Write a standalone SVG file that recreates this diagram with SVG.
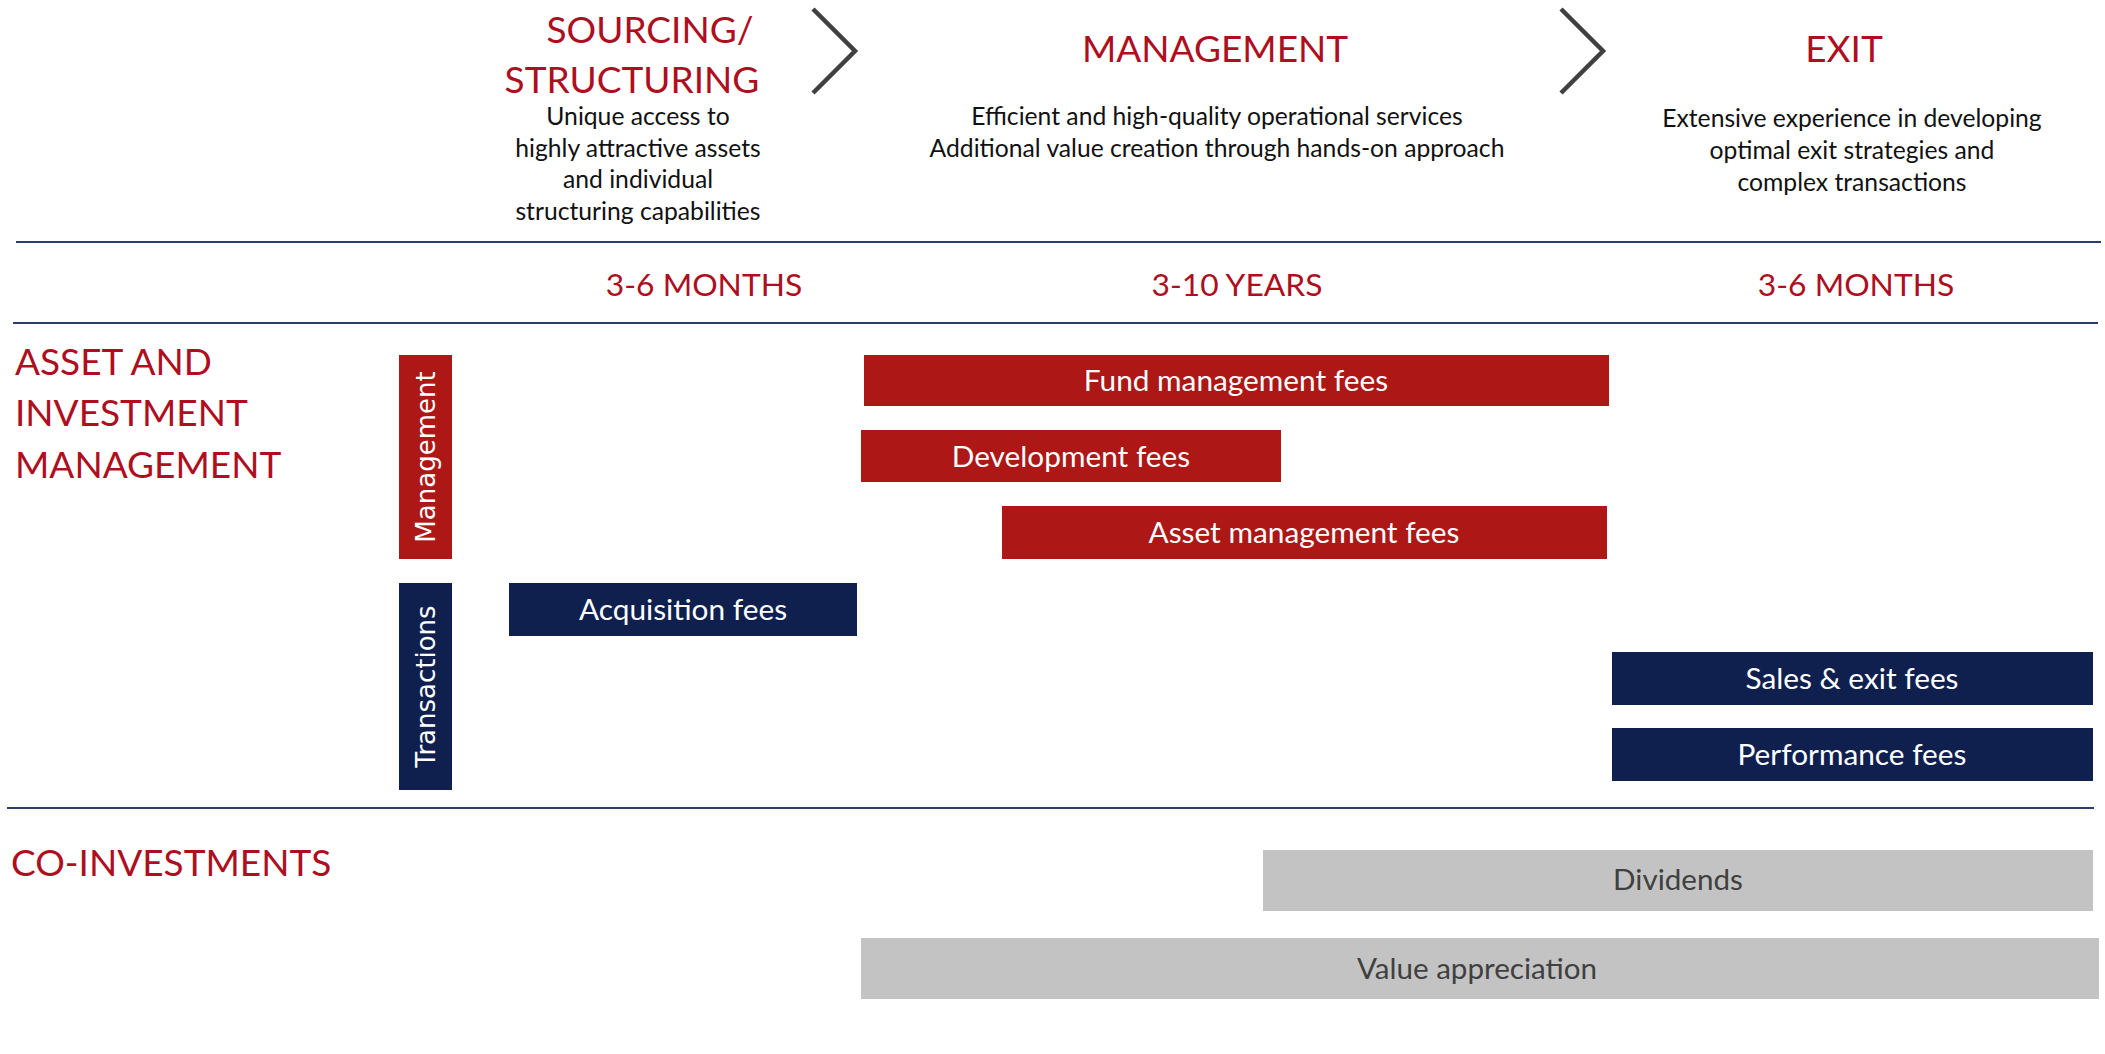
<svg xmlns="http://www.w3.org/2000/svg" width="2105" height="1054" viewBox="0 0 2105 1054">
  <style>
    text { font-family: Lato, "Open Sans", "Liberation Sans", sans-serif; }
    .title { fill: #AE0F1F; font-size: 37px; }
    .desc { fill: #111111; font-size: 24.7px; text-anchor: middle; }
    .dur { fill: #AE0F1F; font-size: 31.8px; text-anchor: middle; }
    .sect { fill: #AE0F1F; font-size: 37px; }
    .red { fill: #AD1716; }
    .navy { fill: #0F204F; }
    .gray { fill: #C3C3C3; }
    .bt { fill: #FFFFFF; font-size: 29.8px; text-anchor: middle; }
    .gt { fill: #404040; font-size: 29.6px; text-anchor: middle; }
    .vt { fill: #FFFFFF; font-family: "DejaVu Sans", Verdana, sans-serif; font-size: 26px; text-anchor: middle; dominant-baseline: central; }
    .sep { stroke: #2C3D6C; stroke-width: 2; }
    .chev { fill: none; stroke: #404040; stroke-width: 4.5; }
  </style>
  <rect width="2105" height="1054" fill="#FFFFFF"/>

  <g id="connectors">
    <polyline class="chev" points="813,9 855,51 813,93"/>
    <polyline class="chev" points="1561,9 1603,51 1561,93"/>
  </g>

  <g id="separators">
    <line class="sep" x1="16" y1="242" x2="2101" y2="242"/>
    <line class="sep" x1="13" y1="323" x2="2098" y2="323"/>
    <line class="sep" x1="7" y1="808" x2="2094" y2="808"/>
  </g>

  <g id="phase-sourcing">
    <text class="title" x="650" y="43" text-anchor="middle">SOURCING/</text>
    <text class="title" x="632" y="93" text-anchor="middle">STRUCTURING</text>
    <text class="desc" x="638" y="125">Unique access to</text>
    <text class="desc" x="638" y="157">highly attractive assets</text>
    <text class="desc" x="638" y="188">and individual</text>
    <text class="desc" x="638" y="220">structuring capabilities</text>
  </g>

  <g id="phase-management">
    <text class="title" x="1215" y="62" text-anchor="middle">MANAGEMENT</text>
    <text class="desc" x="1217" y="125">Efficient and high-quality operational services</text>
    <text class="desc" x="1217" y="157">Additional value creation through hands-on approach</text>
  </g>

  <g id="phase-exit">
    <text class="title" x="1844" y="62" text-anchor="middle">EXIT</text>
    <text class="desc" x="1852" y="127">Extensive experience in developing</text>
    <text class="desc" x="1852" y="159">optimal exit strategies and</text>
    <text class="desc" x="1852" y="191">complex transactions</text>
  </g>

  <g id="durations">
    <text class="dur" x="704" y="296">3-6 MONTHS</text>
    <text class="dur" x="1237" y="296">3-10 YEARS</text>
    <text class="dur" x="1856" y="296">3-6 MONTHS</text>
  </g>

  <g id="section-asset">
    <text class="sect" x="15" y="375">ASSET AND</text>
    <text class="sect" x="15" y="426">INVESTMENT</text>
    <text class="sect" x="15" y="478">MANAGEMENT</text>
  </g>

  <g id="section-co">
    <text class="sect" x="11" y="876">CO-INVESTMENTS</text>
  </g>

  <g id="cat-management">
    <rect class="red" x="399" y="355" width="53" height="204"/>
    <text class="vt" transform="translate(425.5,457) rotate(-90)">Management</text>
  </g>

  <g id="cat-transactions">
    <rect class="navy" x="399" y="583" width="53" height="207"/>
    <text class="vt" transform="translate(425.5,686.5) rotate(-90)">Transactions</text>
  </g>

  <g id="fund-management-fees">
    <rect class="red" x="864" y="355" width="745" height="51"/>
    <text class="bt" x="1236" y="391">Fund management fees</text>
  </g>

  <g id="development-fees">
    <rect class="red" x="861" y="430" width="420" height="52"/>
    <text class="bt" x="1071" y="467">Development fees</text>
  </g>

  <g id="asset-management-fees">
    <rect class="red" x="1002" y="506" width="605" height="53"/>
    <text class="bt" x="1304" y="543">Asset management fees</text>
  </g>

  <g id="acquisition-fees">
    <rect class="navy" x="509" y="583" width="348" height="53"/>
    <text class="bt" x="683" y="620">Acquisition fees</text>
  </g>

  <g id="sales-exit-fees">
    <rect class="navy" x="1612" y="652" width="481" height="53"/>
    <text class="bt" x="1852" y="689">Sales &amp; exit fees</text>
  </g>

  <g id="performance-fees">
    <rect class="navy" x="1612" y="728" width="481" height="53"/>
    <text class="bt" x="1852" y="765">Performance fees</text>
  </g>

  <g id="dividends">
    <rect class="gray" x="1263" y="850" width="830" height="61"/>
    <text class="gt" x="1678" y="890">Dividends</text>
  </g>

  <g id="value-appreciation">
    <rect class="gray" x="861" y="938" width="1238" height="61"/>
    <text class="gt" x="1477" y="979">Value appreciation</text>
  </g>
</svg>
